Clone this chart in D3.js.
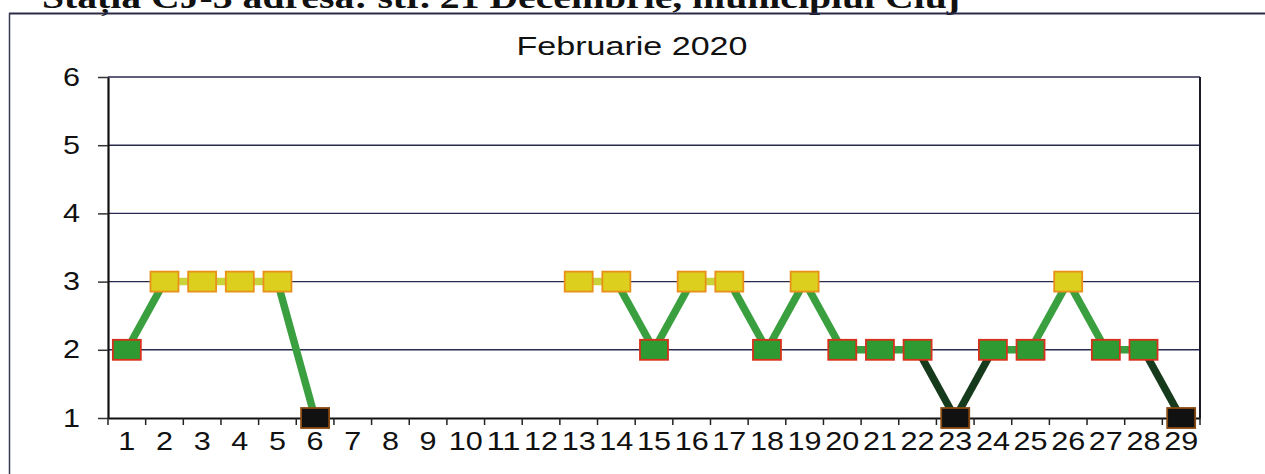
<!DOCTYPE html>
<html><head><meta charset="utf-8">
<script src="https://cdn.jsdelivr.net/npm/d3@7/dist/d3.min.js"></script>
<style>html,body{margin:0;padding:0;background:#fff;}svg{display:block;}</style>
</head><body>
<svg id="chart" width="1265" height="474"></svg>
<script>
const headerText = "Stația CJ-3 adresa: str. 21 Decembrie, municipiul Cluj";
const chartTitle = "Februarie 2020";
const days = ["1","2","3","4","5","6","7","8","9","10","11","12","13","14","15","16","17","18","19","20","21","22","23","24","25","26","27","28","29"];
const values = [2,3,3,3,3,1,null,null,null,null,null,null,3,3,2,3,3,2,3,2,2,2,1,2,2,3,2,2,1];
const yTicks = [1,2,3,4,5,6];

const svg = d3.select("#chart");
const W = 1265, H = 474;
const plot = {left:108, right:1200, top:77, bottom:418};
const sans = "Arial,'Liberation Sans',sans-serif";

// header (cut off at top like the scan)
svg.append("text").attr("x",42).attr("y",8)
  .attr("font-family","'Liberation Serif','Times New Roman',serif")
  .attr("font-size",32).attr("font-weight","bold").attr("fill","#111")
  .attr("textLength",918).attr("lengthAdjust","spacingAndGlyphs")
  .text(headerText);

// outer frame lines
svg.append("line").attr("x1",9).attr("x2",W).attr("y1",13.5).attr("y2",13.5)
  .attr("stroke","#2a2a48").attr("stroke-width",2);
svg.append("line").attr("x1",9.5).attr("x2",9.5).attr("y1",13).attr("y2",H)
  .attr("stroke","#3a3a55").attr("stroke-width",1.5);

// title
svg.append("text").attr("x",632).attr("y",55).attr("text-anchor","middle")
  .attr("font-family",sans).attr("font-size",25).attr("fill","#111")
  .attr("textLength",231).attr("lengthAdjust","spacingAndGlyphs")
  .text(chartTitle);

const x = d3.scaleBand().domain(days).range([plot.left, plot.right]);
const y = d3.scaleLinear().domain([1,6]).range([plot.bottom, plot.top]);
const cx = d => x(d) + x.bandwidth()/2;

// gridlines
svg.append("g").selectAll("line").data(yTicks.filter(v=>v>1)).join("line")
  .attr("x1",plot.left).attr("x2",plot.right)
  .attr("y1",d=>y(d)).attr("y2",d=>y(d))
  .attr("stroke","#2a2a50").attr("stroke-width",1.4);

// right border
svg.append("line").attr("x1",plot.right).attr("x2",plot.right).attr("y1",plot.top).attr("y2",plot.bottom)
  .attr("stroke","#1a1a2a").attr("stroke-width",2);

// y axis
const yAxis = svg.append("g").attr("transform",`translate(${plot.left},0)`)
  .call(d3.axisLeft(y).tickValues(yTicks).tickFormat(d3.format("d")).tickSize(10).tickPadding(18).tickSizeOuter(0));
yAxis.select(".domain").attr("stroke","#111").attr("stroke-width",2.2);
yAxis.selectAll(".tick line").attr("stroke","#333").attr("stroke-width",1.5);
yAxis.selectAll(".tick text").attr("font-family",sans)
  .attr("font-size",25).attr("fill","#111")
  .attr("textLength",17).attr("lengthAdjust","spacingAndGlyphs");

// x axis (labels)
const xAxis = svg.append("g").attr("transform",`translate(0,${plot.bottom})`)
  .call(d3.axisBottom(x).tickSize(0).tickPadding(14).tickSizeOuter(0));
xAxis.select(".domain").attr("stroke","#111").attr("stroke-width",2.2);
xAxis.selectAll(".tick text").attr("font-family",sans)
  .attr("font-size",25).attr("fill","#111")
  .attr("textLength",d=>d.length*17).attr("lengthAdjust","spacingAndGlyphs");
// x tick marks at category boundaries
const bounds = days.map(d=>x(d)).concat([plot.right]);
svg.append("g").selectAll("line").data(bounds).join("line")
  .attr("x1",d=>d).attr("x2",d=>d).attr("y1",plot.bottom).attr("y2",plot.bottom+7)
  .attr("stroke","#222").attr("stroke-width",1.5);

// line segments
const segColor = avg => avg >= 3 ? "#c9d43a" : (avg >= 2 ? "#3a9f3e" : "#163a1c");
const segs = [];
for (let i=0;i<values.length-1;i++){
  if (values[i]!=null && values[i+1]!=null) segs.push({a:i,b:i+1});
}
svg.append("g").selectAll("line").data(segs).join("line")
  .attr("x1",s=>cx(days[s.a])).attr("y1",s=>y(values[s.a]))
  .attr("x2",s=>cx(days[s.b])).attr("y2",s=>y(values[s.b]))
  .attr("stroke",s=>segColor((values[s.a]+values[s.b])/2))
  .attr("stroke-width",7.5);

// markers
const fillC = v => v>=3 ? "#dccf1e" : (v>=2 ? "#2f9a32" : "#111111");
const strokeC = v => v>=3 ? "#e8901a" : (v>=2 ? "#d8301c" : "#8a4a10");
const pts = days.map((d,i)=>({d, v:values[i]})).filter(p=>p.v!=null);
svg.append("g").selectAll("rect").data(pts).join("rect")
  .attr("x",p=>cx(p.d)-14).attr("y",p=>y(p.v)-10)
  .attr("width",28).attr("height",20)
  .attr("fill",p=>fillC(p.v)).attr("stroke",p=>strokeC(p.v)).attr("stroke-width",1.8);
</script>
</body></html>
